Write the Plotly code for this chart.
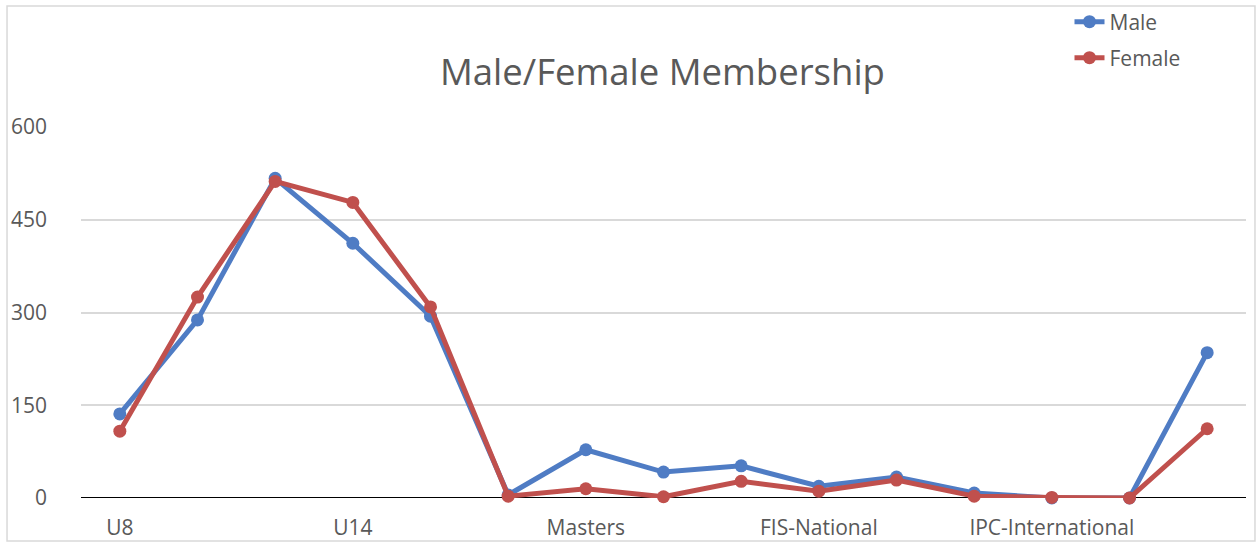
import plotly.graph_objects as go

categories = ["U8", "U10", "U12", "U14", "U16", "U18", "Masters", "Coaches",
              "Officials", "FIS-National", "FIS-International", "IPC-National",
              "IPC-International", "Adaptive", "Other"]
male = [136, 288, 517, 412, 294, 5, 78, 42, 52, 19, 34, 8, 0, 0, 235]
female = [108, 325, 512, 478, 309, 3, 15, 2, 27, 11, 29, 3, 1, 0, 112]
shown_ticks = ["U8", "U14", "Masters", "FIS-National", "IPC-International"]
y_ticks = [0, 150, 300, 450, 600]

font_family = "Open Sans, Lato, sans-serif"
grey = "#595959"
blue = "#4F7CC4"
red = "#C0504D"

fig = go.Figure()
fig.add_trace(go.Scatter(x=categories, y=male, name="Male", mode="lines+markers",
                         line=dict(color=blue, width=5),
                         marker=dict(color=blue, size=13), cliponaxis=False,
                         legend="legend", showlegend=True))
fig.add_trace(go.Scatter(x=categories, y=female, name="Female", mode="lines+markers",
                         line=dict(color=red, width=5),
                         marker=dict(color=red, size=13), cliponaxis=False,
                         legend="legend2", showlegend=True))

legend_common = dict(x=0.8485, xanchor="left", yanchor="middle",
                     font=dict(size=21, color=grey), itemwidth=30,
                     bgcolor="rgba(0,0,0,0)", visible=True)

fig.update_layout(
    width=1257, height=546,
    showlegend=True,
    margin=dict(l=81, r=11, t=127, b=48, autoexpand=False),
    paper_bgcolor="white", plot_bgcolor="white",
    font=dict(family=font_family, color=grey, size=21),
    title=dict(text="Male/Female Membership", x=0.527, xanchor="center",
               y=0.868, yanchor="middle", font=dict(size=36.5, color=grey)),
    legend=dict(y=1.283, **legend_common),
    legend2=dict(y=1.186, **legend_common),
    xaxis=dict(type="category", tickmode="array", tickvals=shown_ticks,
               ticktext=shown_ticks, showgrid=False, showline=False,
               zeroline=False, ticks="", ticklabelstandoff=15,
               automargin=False, range=[-0.5, len(categories) - 0.5]),
    yaxis=dict(range=[0, 600], tickvals=y_ticks, showgrid=True,
               gridcolor="#D9D9D9", gridwidth=1.5, zeroline=False,
               showline=False, ticks="", ticklabelstandoff=33,
               automargin=False),
    shapes=[
        dict(type="line", xref="paper", yref="y", x0=0, x1=1, y0=0, y1=0,
             line=dict(color="black", width=2), layer="below"),
        dict(type="rect", xref="paper", yref="paper",
             x0=-0.0635, x1=1.0077, y0=-0.1159, y1=1.326,
             line=dict(color="#D9D9D9", width=1.5), layer="below"),
    ],
)

fig.write_html("out.html", config={"displayModeBar": False},
               post_script="document.body.style.margin='0';document.body.style.padding='0';")
